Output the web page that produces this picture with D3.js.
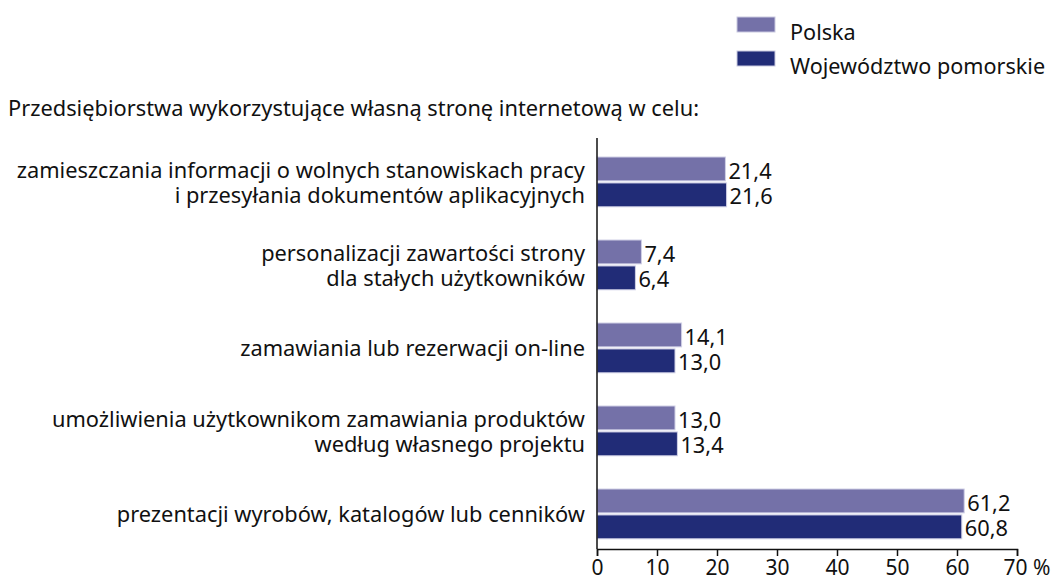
<!DOCTYPE html>
<html>
<head>
<meta charset="utf-8">
<script src="https://cdn.jsdelivr.net/npm/d3@7"></script>
<style>
    body { margin: 0; background: #fff; }
    svg text { font-family: "Noto Sans", sans-serif; fill: #111; }
</style>
</head>
<body>
<svg id="chart" width="1051" height="581"></svg>
<script>

// Categories (each label split into lines), top to bottom
let categories = [
    ["zamieszczania informacji o wolnych stanowiskach pracy", "i przesyłania dokumentów aplikacyjnych"],
    ["personalizacji zawartości strony", "dla stałych użytkowników"],
    ["zamawiania lub rezerwacji on-line"],
    ["umożliwienia użytkownikom zamawiania produktów", "według własnego projektu"],
    ["prezentacji wyrobów, katalogów lub cenników"]
];

let seriesNames = ["Polska", "Województwo pomorskie"];
let polskaValues = [21.4, 7.4, 14.1, 13.0, 61.2];
let pomorskieValues = [21.6, 6.4, 13.0, 13.4, 60.8];
let xTicks = [0, 10, 20, 30, 40, 50, 60, 70];

let title = "Przedsiębiorstwa wykorzystujące własną stronę internetową w celu:";
let colors = ["#7471a8", "#212c77"];

let svg = d3.select("#chart");
let fmt = function (v) { return d3.format(".1f")(v).replace(".", ","); };
let fontSize = "21.8px";

// Scales
let x = d3.scaleLinear().domain([0, 70]).range([597, 1017]);

let y0 = d3.scaleBand()
    .domain(d3.range(categories.length))
    .range([140.4, 555.4])
    .paddingInner(0.4)
    .paddingOuter(0.2);

let y1 = d3.scaleBand()
    .domain(seriesNames)
    .range([0, y0.bandwidth()])
    .paddingInner(0.08);

// Legend
let legend = svg.append("g");
seriesNames.forEach(function (name, i) {
    legend.append("rect")
        .attr("x", 737).attr("y", 17 + i * 34)
        .attr("width", 38).attr("height", 15)
        .attr("fill", colors[i])
        .attr("stroke", "#c9c9e0").attr("stroke-width", 1);
    legend.append("text")
        .attr("x", 790).attr("y", 32 + i * 34)
        .attr("dy", "0.35em")
        .style("font-size", "21.6px")
        .text(name);
});

// Title
svg.append("text")
    .attr("x", 8).attr("y", 108)
    .attr("dy", "0.35em")
    .style("font-size", fontSize)
    .text(title);

// Bars
let data = categories.map(function (c, i) {
    return { i: i, values: [
        { name: seriesNames[0], v: polskaValues[i] },
        { name: seriesNames[1], v: pomorskieValues[i] }
    ]};
});

let groups = svg.append("g").selectAll("g")
    .data(data)
    .enter().append("g")
    .attr("transform", function (d) { return "translate(0," + y0(d.i) + ")"; });

groups.selectAll("rect")
    .data(function (d) { return d.values; })
    .enter().append("rect")
    .attr("x", x(0))
    .attr("y", function (d) { return y1(d.name); })
    .attr("width", function (d) { return x(d.v) - x(0); })
    .attr("height", y1.bandwidth())
    .attr("fill", function (d, i) { return colors[i]; })
    .attr("stroke", "#d0d0e6").attr("stroke-width", 1);

groups.selectAll("text.val")
    .data(function (d) { return d.values; })
    .enter().append("text")
    .attr("class", "val")
    .attr("x", function (d) { return x(d.v) + 3; })
    .attr("y", function (d) { return y1(d.name) + y1.bandwidth() / 2 + 2; })
    .attr("dy", "0.35em")
    .style("font-size", fontSize)
    .text(function (d) { return fmt(d.v); });

// Category labels, one text per line
groups.each(function (d) {
    let lines = categories[d.i];
    let g = d3.select(this);
    let mid = y0.bandwidth() / 2;
    lines.forEach(function (line, k) {
        let off = lines.length === 1 ? 0 : (k === 0 ? -12 : 13);
        g.append("text")
            .attr("text-anchor", "end")
            .style("font-size", fontSize)
            .attr("x", 585)
            .attr("y", mid + off)
            .attr("dy", "0.35em")
            .text(line);
    });
});

// Axes
svg.append("line")
    .attr("x1", x(0)).attr("x2", x(0))
    .attr("y1", 138).attr("y2", 549)
    .attr("stroke", "#111").attr("stroke-width", 1.5);

let xAxis = svg.append("g")
    .attr("transform", "translate(0,549)")
    .call(d3.axisBottom(x)
        .tickValues(xTicks)
        .tickSize(7)
        .tickPadding(4)
        .tickFormat(function (d) { return d === 70 ? "70 %" : d; }));

xAxis.select(".domain").attr("stroke", "#111").attr("stroke-width", 1.5);
xAxis.selectAll(".tick line").attr("stroke", "#111").attr("stroke-width", 1.5);
xAxis.selectAll(".tick text")
    .style("font-size", "21px")
    .style("font-family", "Noto Sans, sans-serif")
    .attr("fill", "#111");
xAxis.selectAll(".tick").filter(function (d) { return d === 70; })
    .select("text").attr("text-anchor", "start").attr("x", -14);

</script>
</body>
</html>
